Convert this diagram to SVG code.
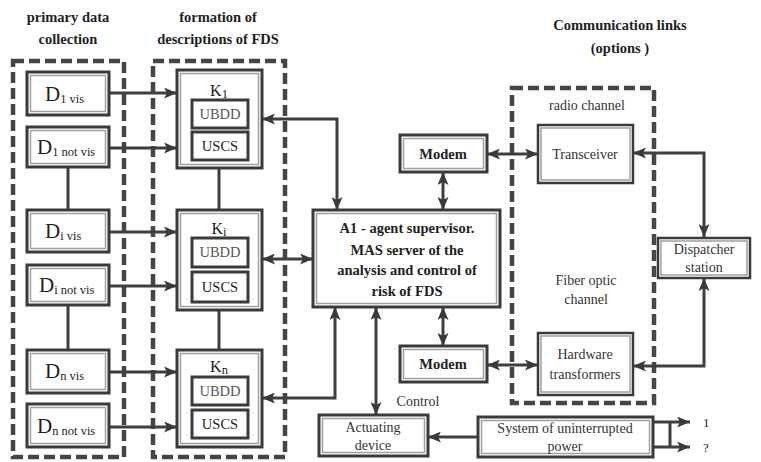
<svg xmlns="http://www.w3.org/2000/svg" width="761" height="462" viewBox="0 0 761 462">
<style>
text{fill:#1e1e1e}
.ttl{font-size:14.5px;font-weight:bold;text-anchor:middle}
.bx{fill:#fff;stroke:#3a3a3a;stroke-width:3}
.in{fill:none;stroke:#a0a0a0;stroke-width:1.5}
.dash{fill:none;stroke:#454545;stroke-width:4.5;stroke-dasharray:11 5}
.c{fill:none;stroke:#3f3f3f;stroke-width:3}
.d{font-size:21px}
.sub{font-size:12.5px}
.k{font-size:16px;text-anchor:middle}
.u{font-size:14.5px;text-anchor:middle}
.b{font-size:14.5px;font-weight:bold;text-anchor:middle}
.n{font-size:14px;text-anchor:middle;fill:#333}
</style>
<defs>
<marker id="ah" viewBox="0 0 13 11" refX="13" refY="5.5" markerWidth="13" markerHeight="11" orient="auto-start-reverse" markerUnits="userSpaceOnUse">
<path d="M0,0 L13,5.5 L0,11 L3,5.5 z" fill="#3a3a3a"/>
</marker>
</defs>
<g font-family="Liberation Serif, DejaVu Serif, serif">
<g id="titles">
<text class="ttl" x="68" y="22">primary data</text>
<text class="ttl" x="68" y="44">collection</text>
<text class="ttl" x="218" y="22">formation of</text>
<text class="ttl" x="218" y="44">descriptions of FDS</text>
<text class="ttl" x="620" y="30">Communication links</text>
<text class="ttl" x="620" y="53">(options )</text>
</g>

<g id="groups">
<rect class="dash" x="13" y="61" width="111" height="396"/>
<rect class="dash" x="153" y="61" width="132" height="396"/>
<rect class="dash" x="512" y="88" width="142" height="315"/>
<text class="n" x="587" y="110">radio channel</text>
<text class="n" x="586" y="285">Fiber optic</text>
<text class="n" x="586" y="304">channel</text>
</g>

<g id="connectors">
<path class="c" d="M109,93 H177" marker-end="url(#ah)"/>
<path class="c" d="M109,148 H177" marker-end="url(#ah)"/>
<path class="c" d="M109,232 H177" marker-end="url(#ah)"/>
<path class="c" d="M109,286 H177" marker-end="url(#ah)"/>
<path class="c" d="M109,372 H177" marker-end="url(#ah)"/>
<path class="c" d="M109,427 H177" marker-end="url(#ah)"/>
<path class="c" d="M68,167 V210"/>
<path class="c" d="M68,305 V350"/>
<path class="c" d="M219,168 V210"/>
<path class="c" d="M219,310 V350"/>
<path class="c" d="M262,119 H337 V210" marker-start="url(#ah)" marker-end="url(#ah)"/>
<path class="c" d="M262,259 H313" marker-start="url(#ah)" marker-end="url(#ah)"/>
<path class="c" d="M262,398 H335 V307" marker-start="url(#ah)" marker-end="url(#ah)"/>
<path class="c" d="M443,172 V210" marker-start="url(#ah)" marker-end="url(#ah)"/>
<path class="c" d="M443,307 V346" marker-start="url(#ah)" marker-end="url(#ah)"/>
<path class="c" d="M376,307 V415" marker-start="url(#ah)" marker-end="url(#ah)"/>
<path class="c" d="M487,154 H538" marker-start="url(#ah)" marker-end="url(#ah)"/>
<path class="c" d="M487,365 H538" marker-start="url(#ah)" marker-end="url(#ah)"/>
<path class="c" d="M633,153 H704 V237" marker-start="url(#ah)" marker-end="url(#ah)"/>
<path class="c" d="M633,366 H704 V278" marker-start="url(#ah)" marker-end="url(#ah)"/>
<path class="c" d="M478,437 H428" marker-end="url(#ah)"/>
<path class="c" d="M653,422 H690" marker-end="url(#ah)"/>
<path class="c" d="M653,447 H690" marker-end="url(#ah)"/>
<path class="c" d="M670,422 V447"/>
<text class="n" x="418" y="406">Control</text>
<text x="703" y="427" style="font-size:13px">1</text>
<text x="703" y="452" style="font-size:13px">?</text>
</g>

<g id="d1vis">
<rect class="bx" x="27" y="72" width="82" height="43"/>
<rect class="in" x="30.5" y="75.5" width="75" height="36"/>
<text x="45" y="101"><tspan class="d">D</tspan><tspan class="sub" dy="2">1 vis</tspan></text>
</g>
<g id="d1notvis">
<rect class="bx" x="27" y="127" width="82" height="40"/>
<rect class="in" x="30.5" y="130.5" width="75" height="33"/>
<text x="37" y="154"><tspan class="d">D</tspan><tspan class="sub" dy="2">1 not vis</tspan></text>
</g>
<g id="divis">
<rect class="bx" x="27" y="210" width="82" height="42"/>
<rect class="in" x="30.5" y="213.5" width="75" height="35"/>
<text x="45" y="238"><tspan class="d">D</tspan><tspan class="sub" dy="2">i vis</tspan></text>
</g>
<g id="dinotvis">
<rect class="bx" x="27" y="265" width="82" height="40"/>
<rect class="in" x="30.5" y="268.5" width="75" height="33"/>
<text x="39" y="292"><tspan class="d">D</tspan><tspan class="sub" dy="2">i not vis</tspan></text>
</g>
<g id="dnvis">
<rect class="bx" x="27" y="350" width="82" height="43"/>
<rect class="in" x="30.5" y="353.5" width="75" height="36"/>
<text x="45" y="378"><tspan class="d">D</tspan><tspan class="sub" dy="2">n vis</tspan></text>
</g>
<g id="dnnotvis">
<rect class="bx" x="27" y="404" width="82" height="43"/>
<rect class="in" x="30.5" y="407.5" width="75" height="36"/>
<text x="37" y="433"><tspan class="d">D</tspan><tspan class="sub" dy="2">n not vis</tspan></text>
</g>

<g id="k1">
<rect class="bx" x="177" y="70" width="85" height="98"/>
<rect class="in" x="180.5" y="73.5" width="78" height="91"/>
<text class="k" x="219" y="96">K<tspan class="sub" dy="2">1</tspan></text>
<rect class="bx" x="192" y="100" width="56" height="28"/>
<text class="u" x="220" y="119" style="fill:#555">UBDD</text>
<rect class="bx" x="192" y="132" width="56" height="28"/>
<text class="u" x="220" y="151">USCS</text>
</g>
<g id="ki">
<rect class="bx" x="177" y="210" width="85" height="100"/>
<rect class="in" x="180.5" y="213.5" width="78" height="93"/>
<text class="k" x="219" y="234">K<tspan class="sub" dy="2">i</tspan></text>
<rect class="bx" x="192" y="238" width="56" height="29"/>
<text class="u" x="220" y="257" style="fill:#555">UBDD</text>
<rect class="bx" x="192" y="272" width="56" height="30"/>
<text class="u" x="220" y="292">USCS</text>
</g>
<g id="kn">
<rect class="bx" x="177" y="350" width="85" height="97"/>
<rect class="in" x="180.5" y="353.5" width="78" height="90"/>
<text class="k" x="219" y="372">K<tspan class="sub" dy="2">n</tspan></text>
<rect class="bx" x="192" y="377" width="56" height="28"/>
<text class="u" x="220" y="396" style="fill:#555">UBDD</text>
<rect class="bx" x="192" y="410" width="56" height="28"/>
<text class="u" x="220" y="429">USCS</text>
</g>

<g id="a1">
<rect class="bx" x="313" y="210" width="187" height="97"/>
<rect class="in" x="316.5" y="213.5" width="180" height="90"/>
<text class="b" x="407" y="233">A1 - agent supervisor.</text>
<text class="b" x="407" y="255">MAS server of the</text>
<text class="b" x="407" y="275">analysis and control of</text>
<text class="b" x="407" y="296">risk of FDS</text>
</g>

<g id="modem1">
<rect class="bx" x="400" y="135" width="87" height="37"/>
<rect class="in" x="403.5" y="138.5" width="80" height="30"/>
<text class="b" x="443" y="159">Modem</text>
</g>
<g id="modem2">
<rect class="bx" x="400" y="346" width="87" height="36"/>
<rect class="in" x="403.5" y="349.5" width="80" height="29"/>
<text class="b" x="443" y="369">Modem</text>
</g>

<g id="transceiver">
<rect class="bx" x="538" y="125" width="95" height="58" style="stroke-width:2.5"/>
<rect class="in" x="541" y="128" width="89" height="52"/>
<text class="n" x="585" y="159">Transceiver</text>
</g>
<g id="hardware">
<rect class="bx" x="538" y="333" width="95" height="62" style="stroke-width:2.5"/>
<rect class="in" x="541" y="336" width="89" height="56"/>
<text class="n" x="585" y="359">Hardware</text>
<text class="n" x="585" y="379">transformers</text>
</g>
<g id="dispatcher">
<rect class="bx" x="658" y="238" width="92" height="40" style="stroke-width:2.5"/>
<rect class="in" x="661" y="241" width="86" height="34"/>
<text class="n" x="704" y="254">Dispatcher</text>
<text class="n" x="704" y="272">station</text>
</g>

<g id="actuating">
<rect class="bx" x="319" y="415" width="109" height="41"/>
<rect class="in" x="322.5" y="418.5" width="102" height="34"/>
<text class="n" x="373" y="432">Actuating</text>
<text class="n" x="373" y="450">device</text>
</g>
<g id="ups">
<rect class="bx" x="478" y="417" width="175" height="40"/>
<rect class="in" x="481.5" y="420.5" width="168" height="33"/>
<text class="n" x="565" y="433">System of uninterrupted</text>
<text class="n" x="565" y="451">power</text>
</g>
</g>
</svg>
